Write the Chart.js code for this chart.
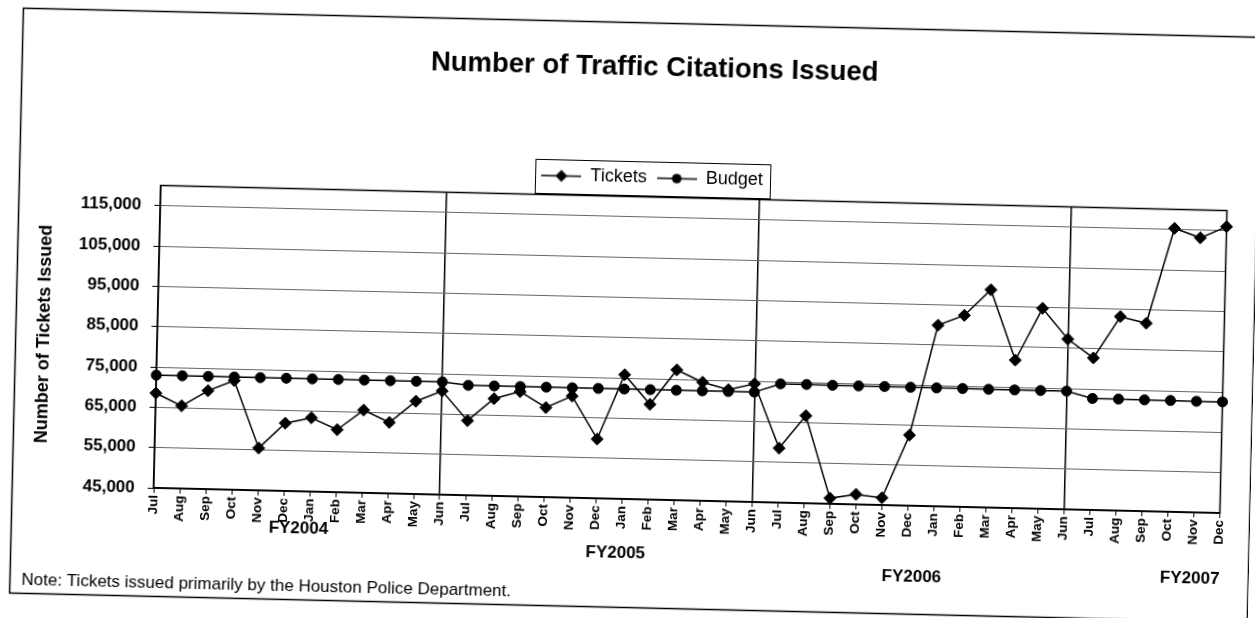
<!DOCTYPE html>
<html>
<head>
<meta charset="utf-8">
<script src="https://cdn.jsdelivr.net/npm/chart.js@4.4.1/dist/chart.umd.min.js"></script>
<style>
html,body{margin:0;padding:0;background:#fff;overflow:hidden;width:1255px;height:618px}
#wrap{position:absolute;left:0;top:0;width:1255px;height:618px;transform:rotate(1.35deg);transform-origin:627.5px 309px;background:#fff}
canvas{display:block}
</style>
</head>
<body>
<div id="wrap"><canvas id="c" width="1255" height="618"></canvas></div>
<script>
// ---- data ----
const months = [
  'Jul','Aug','Sep','Oct','Nov','Dec','Jan','Feb','Mar','Apr','May','Jun',
  'Jul','Aug','Sep','Oct','Nov','Dec','Jan','Feb','Mar','Apr','May','Jun',
  'Jul','Aug','Sep','Oct','Nov','Dec','Jan','Feb','Mar','Apr','May','Jun',
  'Jul','Aug','Sep','Oct','Nov','Dec'
];
const fiscalYears = ['FY2004','FY2005','FY2006','FY2007'];
const tickets = [
  68500, 65500, 69400, 72100, 55500, 61800, 63300, 60500, 65500, 62600, 68000, 70700,
  63500, 69100, 71000, 67200, 70200, 59700, 75800, 68600, 77300, 74400, 72700, 74300,
  58500, 66700, 46400, 47500, 46800, 62500, 89900, 92500, 99000, 81700, 94700, 87200,
  82700, 93100, 91600, 115300, 113100, 116000
];
const budget = [
  72950, 72950, 72950, 72950, 72950, 72950, 72950, 72950, 72950, 72950, 72950, 72950,
  72250, 72250, 72250, 72250, 72250, 72250, 72250, 72250, 72250, 72250, 72250, 72250,
  74450, 74450, 74400, 74400, 74400, 74350, 74350, 74350, 74300, 74300, 74300, 74300,
  72650, 72650, 72600, 72600, 72550, 72550
];
const yTicks = [45000, 55000, 65000, 75000, 85000, 95000, 105000, 115000];
const yMin = 45000, yMax = 120000;

// ---- placement of the extra texts (category units / px below the axis) ----
const fyLabelAt = [5.6, 17.8, 29.2, 39.9];
const fyLabelDrop = [37, 54, 71, 66];
const noteText = 'Note: Tickets issued primarily by the Houston Police Department.';

const FONT = '"Liberation Sans", Arial, Helvetica, sans-serif';
Chart.defaults.font.family = FONT;
Chart.defaults.color = '#000';

const dividerIdx = months.map((m, i) => (m === 'Jun' ? i : -1)).filter(i => i >= 0);

function legendSymbol(kind) {
  const c = document.createElement('canvas');
  c.width = 40; c.height = 16;
  const g = c.getContext('2d');
  g.strokeStyle = '#000'; g.lineWidth = 1.5;
  g.beginPath(); g.moveTo(0, 8); g.lineTo(40, 8); g.stroke();
  g.fillStyle = '#000';
  g.beginPath();
  if (kind === 'diamond') { g.moveTo(20, 2); g.lineTo(26, 8); g.lineTo(20, 14); g.lineTo(14, 8); g.closePath(); }
  else { g.arc(20, 8, 4.8, 0, Math.PI * 2); }
  g.fill();
  return c;
}
const symbols = [legendSymbol('diamond'), legendSymbol('circle')];

const extras = {
  id: 'extras',
  beforeDraw(chart) {
    const ctx = chart.ctx;
    ctx.save();
    ctx.fillStyle = '#fff';
    ctx.fillRect(0, 0, chart.width, chart.height);
    ctx.strokeStyle = '#000';
    ctx.lineWidth = 1.5;
    ctx.strokeRect(16.5, 22.5, chart.width - 17, 585);
    ctx.restore();
  },
  beforeDatasetsDraw(chart) {
    const {ctx, chartArea: a} = chart;
    ctx.save();
    ctx.strokeStyle = '#000';
    ctx.lineWidth = 1.5;
    ctx.strokeRect(a.left, a.top, a.right - a.left, a.bottom - a.top);
    ctx.restore();
  },
  afterDraw(chart) {
    const {ctx, chartArea: a} = chart;
    const xs = chart.scales.x;
    ctx.save();
    // legend frame
    const hb = chart.legend.legendHitBoxes;
    if (hb && hb.length) {
      const l = Math.min(...hb.map(h => h.left)) - 6;
      const r = Math.max(...hb.map(h => h.left + h.width)) + 8;
      const t = Math.min(...hb.map(h => h.top)) - 8;
      const b = Math.max(...hb.map(h => h.top + h.height)) + 8;
      ctx.strokeStyle = '#000';
      ctx.lineWidth = 1;
      ctx.strokeRect(Math.round(l) + 0.5, Math.round(t) + 0.5, Math.round(r - l), Math.round(b - t));
    }
    // fiscal year labels
    ctx.fillStyle = '#000';
    ctx.font = 'bold 17px ' + FONT;
    ctx.textAlign = 'center';
    ctx.textBaseline = 'middle';
    fiscalYears.forEach((fy, i) => {
      ctx.fillText(fy, xs.getPixelForValue(fyLabelAt[i]), a.bottom + fyLabelDrop[i]);
    });
    // note
    ctx.font = '17px ' + FONT;
    ctx.textAlign = 'left';
    ctx.fillText(noteText, 28, 594);
    ctx.restore();
  }
};

new Chart(document.getElementById('c'), {
  type: 'line',
  data: {
    labels: months,
    datasets: [
      {
        label: 'Tickets', data: tickets, borderColor: '#000', borderWidth: 1.5,
        pointStyle: 'rectRot', pointRadius: 6, pointBackgroundColor: '#000',
        pointBorderColor: '#000', pointBorderWidth: 1, tension: 0, yAxisID: 'y'
      },
      {
        label: 'Budget', data: budget, borderColor: '#000', borderWidth: 1.5,
        pointStyle: 'circle', pointRadius: 5, pointBackgroundColor: '#000',
        pointBorderColor: '#000', pointBorderWidth: 1, tension: 0, yAxisID: 'y'
      }
    ]
  },
  options: {
    responsive: false,
    animation: false,
    devicePixelRatio: 1,
    layout: {padding: {left: 13, right: -30, top: 10, bottom: 0}},
    plugins: {
      title: {
        display: true, text: 'Number of Traffic Citations Issued', color: '#000',
        font: {size: 27.5, weight: 'bold'}, padding: {top: 40.5, bottom: 75}
      },
      legend: {
        display: true, position: 'top',
        labels: {
          usePointStyle: true, pointStyleWidth: 40, font: {size: 18}, color: '#000', padding: 10,
          generateLabels: (chart) => chart.data.datasets.map((ds, i) => ({
            text: ds.label, pointStyle: symbols[i], fillStyle: '#000', strokeStyle: '#000',
            lineWidth: 0, hidden: false, datasetIndex: i, fontColor: '#000'
          }))
        }
      },
      tooltip: {enabled: false}
    },
    scales: {
      x: {
        type: 'category', offset: false,
        grid: {
          offset: false,
          color: (c) => (dividerIdx.includes(c.index) ? '#000' : 'rgba(0,0,0,0)'),
          lineWidth: (c) => (dividerIdx.includes(c.index) ? 1.5 : 1),
          tickLength: 5, tickColor: '#000', tickWidth: 1
        },
        border: {display: true, color: '#000', width: 1.5},
        ticks: {autoSkip: false, maxRotation: 90, minRotation: 90, padding: 2,
                font: {size: 13.5, weight: 'bold'}, color: '#000'},
        afterFit(s) { s.height = 119; }
      },
      y: {
        type: 'linear', position: 'left', min: yMin, max: yMax,
        afterBuildTicks(s) { s.ticks = yTicks.map(v => ({value: v})); },
        ticks: {callback: (v) => Number(v).toLocaleString('en-US'), padding: 13,
                font: {size: 17, weight: 'bold'}, color: '#000'},
        grid: {color: '#666', lineWidth: 1, tickLength: 6, tickColor: '#000', tickWidth: 1},
        border: {display: true, color: '#000', width: 1.5},
        title: {display: true, text: 'Number of Tickets Issued', color: '#000',
                font: {size: 18, weight: 'bold'}, padding: {top: 21, bottom: 0}},
        afterFit(s) { s.width = 145; }
      },
      y2: {
        type: 'linear', position: 'right', display: true,
        grid: {display: false, drawTicks: false}, ticks: {display: false},
        border: {display: false},
        afterFit(s) { s.width = 60.5; }
      }
    }
  },
  plugins: [extras]
});
</script>
</body>
</html>
